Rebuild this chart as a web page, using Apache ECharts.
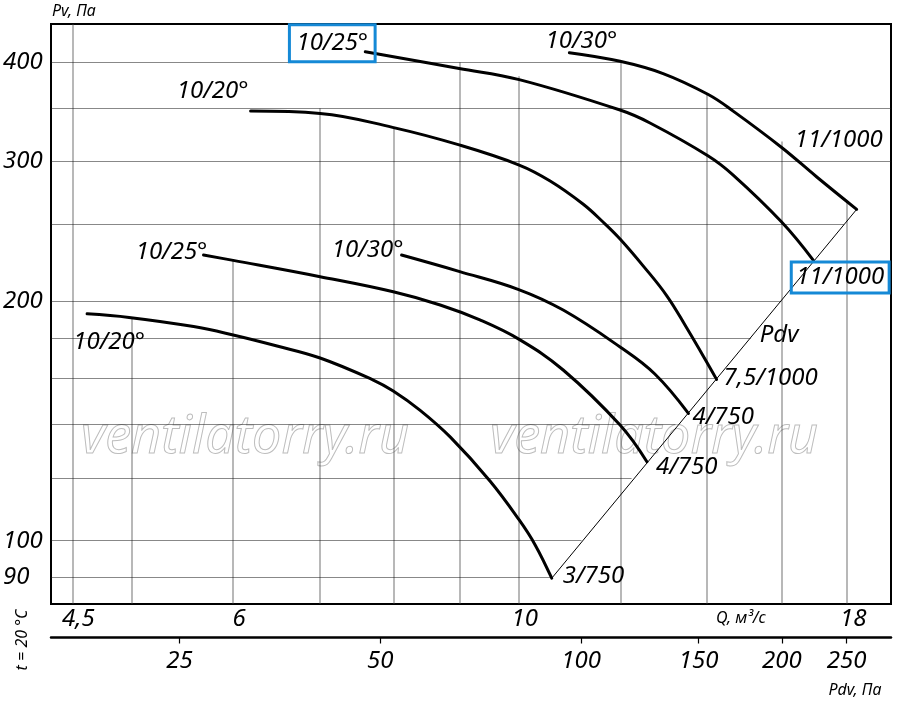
<!DOCTYPE html>
<html>
<head>
<meta charset="utf-8">
<script src="https://cdn.jsdelivr.net/npm/echarts@6/dist/echarts.min.js"></script>
<style>
html,body{margin:0;padding:0;background:#fff}
#c{width:900px;height:712px}
</style>
</head>
<body>
<div id="c"></div>
<script>
// ---------- data ----------
// axis tick labels
const qLabels   = [4.5, 6, 10, 18];
const pvLabels  = [90, 100, 200, 300, 400];
const pdvLabels = [25, 50, 100, 150, 200, 250];

// grid lines (data values) and where they start / stop
const vGridQ    = [4.5, 5, 6, 7, 8, 9, 10, 12, 14, 16, 18];
const vGridTopP = [null, 191, 225, 350, 330, 400, 384, 400, 364, 318, 266];
const hGridP    = [90, 100, 120, 140, 160, 180, 200, 250, 300, 350, 400];
const hGridEndQ = [10.58, 11.19, 12.24, 13.24, 14.2, 15.15, 16.0, 17.9, null, null, 12.0];

// fan curves [Q m3/s, Pv Pa]
const curve1020low = [[4.62,193],[4.98,191],[5.59,186],[6.0,181.5],[6.49,175.8],[7.01,169.8],[7.71,159.3],[7.99,154.3],[8.38,146],[8.85,135],[9.5,118.9],[10.01,106.2],[10.3,98.8],[10.61,89.7]];
const curve1025low = [[5.69,228.8],[6.0,225.3],[7.01,214.9],[7.99,205.7],[8.69,198.0],[9.33,189.6],[10.01,179.2],[10.83,164],[11.99,139.8],[12.58,125.7]];
const curve1030low = [[8.11,228.8],[9.0,218.1],[9.99,207.2],[10.83,195.1],[11.99,175.3],[12.76,162.1],[13.55,144.6]];
const curve1020up  = [[6.19,347.2],[7.01,344.9],[7.98,331.2],[8.99,314.8],[10.01,297],[10.58,283.6],[11.22,265.3],[11.63,251.8],[11.99,239.7],[12.5,221.6],[13.04,203.2],[13.51,185.2],[14.05,166.2],[14.25,159.6]];
const curve1025up  = [[7.6,412.3],[8.99,392.9],[10.01,380.4],[11.99,348.3],[12.65,335.5],[14.04,304.9],[14.68,288.5],[16.01,251.8],[16.94,225.5]];
const curve1030up  = [[10.95,411.2],[11.99,401.1],[12.95,387.1],[14.04,364.3],[14.68,347.2],[16.01,312.5],[17.04,287.1],[18.31,261.2]];
// dynamic pressure line
const pdvLine = [[10.61,89.7],[18.31,261.2]];

// ---------- chart ----------
const Q_MIN = 4.331, Q_MAX = 19.47;
const P_MIN = 83.25, P_MAX = 446.9;
const PDV_MIN = 16.04, PDV_MAX = 291.5;
const FONT = '"Noto Sans", "DejaVu Sans", sans-serif';
const ink = '#000';

const gridSegs = [];
vGridQ.forEach((q, i) => gridSegs.push({
  coords: [[q, vGridTopP[i] == null ? P_MAX : vGridTopP[i]], [q, P_MIN]],
  lineStyle: {color: '#444', width: 1.5}
}));
hGridP.forEach((p, i) => gridSegs.push({
  coords: [[Q_MIN, p], [hGridEndQ[i] == null ? Q_MAX : hGridEndQ[i], p]],
  lineStyle: {color: '#111', width: 1.1}
}));

const first = a => a[0];
const last = a => a[a.length - 1];
const BLUE = '#1589d6';
const labelItems = [
  {at: first(curve1025up),  text: '10/25°',   off: [-33, -8.5], align: 'center', box: [6, 7, 5, 7]},
  {at: first(curve1020up),  text: '10/20°',   off: [-38, -20],  align: 'center'},
  {at: first(curve1025low), text: '10/25°',   off: [-32, -3],   align: 'center'},
  {at: first(curve1030low), text: '10/30°',   off: [-34, -5],   align: 'center'},
  {at: first(curve1020low), text: '10/20°',   off: [22, 28.5],  align: 'center'},
  {at: first(curve1030up),  text: '10/30°',   off: [12, -11.5], align: 'center'},
  {at: last(curve1030up),   text: '11/1000',  off: [-18, -69],  align: 'center'},
  {at: last(curve1025up),   text: '11/1000',  off: [27, 17.5],  align: 'center', box: [3, 5, 2, 5]},
  {at: last(curve1020up),   text: '7,5/1000', off: [7, -1.5],   align: 'left'},
  {at: last(curve1030low),  text: '4/750',    off: [4, 4],      align: 'left'},
  {at: last(curve1025low),  text: '4/750',    off: [9, 5],      align: 'left'},
  {at: last(curve1020low),  text: '3/750',    off: [11, -2.5],  align: 'left'}
];

function curveSeries(name, data) {
  return {
    name, type: 'line', data, smooth: 0.4, symbol: 'none', z: 3,
    lineStyle: {color: '#000', width: 3, cap: 'round'}
  };
}

const labelFont = {fontFamily: FONT, fontStyle: 'italic', fontSize: 24, color: ink, textBorderWidth: 0};

const option = {
  animation: false,
  backgroundColor: '#fff',
  grid: {left: 51, right: 9, top: 24, bottom: 108, show: true, borderColor: '#000', borderWidth: 2, backgroundColor: 'transparent'},
  xAxis: [
    {
      type: 'log', min: Q_MIN, max: Q_MAX, position: 'bottom',
      axisLine: {show: false}, axisTick: {show: false}, splitLine: {show: false},
      axisLabel: {
        customValues: qLabels, margin: 3, padding: [0, 0, 0, 12],
        formatter: v => String(v).replace('.', ','),
        fontFamily: FONT, fontStyle: 'italic', fontSize: 24, color: ink
      }
    },
    {
      type: 'log', min: PDV_MIN, max: PDV_MAX, position: 'bottom', offset: 33.5,
      axisLine: {show: true, lineStyle: {color: '#000', width: 2.5}},
      axisTick: {show: true, customValues: pdvLabels, length: 6, lineStyle: {color: '#000', width: 1.2}},
      splitLine: {show: false},
      axisLabel: {
        customValues: pdvLabels, margin: 12,
        fontFamily: FONT, fontStyle: 'italic', fontSize: 24, color: ink
      }
    }
  ],
  yAxis: {
    type: 'log', min: P_MIN, max: P_MAX,
    axisLine: {show: false}, axisTick: {show: false}, splitLine: {show: false},
    axisLabel: {
      customValues: pvLabels, margin: 48, align: 'left',
      fontFamily: FONT, fontStyle: 'italic', fontSize: 24, color: ink
    }
  },
  series: [
    {
      type: 'lines', coordinateSystem: 'cartesian2d', xAxisIndex: 0, yAxisIndex: 0,
      data: gridSegs, z: 1, silent: true, polyline: false
    },
    curveSeries('10/20° 3/750', curve1020low),
    curveSeries('10/25° 4/750', curve1025low),
    curveSeries('10/30° 4/750', curve1030low),
    curveSeries('10/20° 7,5/1000', curve1020up),
    curveSeries('10/25° 11/1000', curve1025up),
    curveSeries('10/30° 11/1000', curve1030up),
    {
      name: 'Pdv', type: 'line', data: pdvLine, symbol: 'none', z: 2,
      lineStyle: {color: '#000', width: 1}
    },
    {
      type: 'scatter', z: 5, symbolSize: 1, silent: true,
      itemStyle: {color: 'rgba(0,0,0,0)', opacity: 1},
      data: labelItems.map(it => ({
        value: it.at, name: it.text,
        label: Object.assign({
          show: true, position: 'inside', formatter: '{b}',
          offset: it.off, align: it.align, verticalAlign: 'middle',
          lineHeight: 26
        }, labelFont, it.box ? {borderColor: BLUE, borderWidth: 3, padding: it.box} : {})
      }))
    }
  ],
  graphic: [
    {type: 'text', x: 245, y: 438, z: 0, silent: true,
      style: {text: 'ventilatorry.ru', font: 'italic 52px ' + FONT, fill: 'rgba(0,0,0,0)', stroke: '#bdbdbd', lineWidth: 1, textAlign: 'center', textVerticalAlign: 'middle'}},
    {type: 'text', x: 654, y: 438, z: 0, silent: true,
      style: {text: 'ventilatorry.ru', font: 'italic 52px ' + FONT, fill: 'rgba(0,0,0,0)', stroke: '#bdbdbd', lineWidth: 1, textAlign: 'center', textVerticalAlign: 'middle'}},
    {type: 'text', x: 52, y: 11,
      style: {text: 'Pv, Па', font: 'italic 16px ' + FONT, fill: ink, textAlign: 'left', textVerticalAlign: 'middle'}},
    {type: 'text', x: 741, y: 618,
      style: {text: 'Q, м³/с', font: 'italic 16px ' + FONT, fill: ink, textAlign: 'center', textVerticalAlign: 'middle'}},
    {type: 'text', x: 855, y: 690,
      style: {text: 'Pdv, Па', font: 'italic 16px ' + FONT, fill: ink, textAlign: 'center', textVerticalAlign: 'middle'}},
    {type: 'text', x: 779, y: 335,
      style: {text: 'Pdv', font: 'italic 24px ' + FONT, fill: ink, textAlign: 'center', textVerticalAlign: 'middle'}},
    {type: 'text', x: 22, y: 640, rotation: Math.PI / 2,
      style: {text: 't = 20 °C', font: 'italic 16px ' + FONT, fill: ink, textAlign: 'center', textVerticalAlign: 'middle'}}
  ]
};

const chart = echarts.init(document.getElementById('c'), null, {renderer: 'canvas'});
chart.setOption(option);
</script>
</body>
</html>
